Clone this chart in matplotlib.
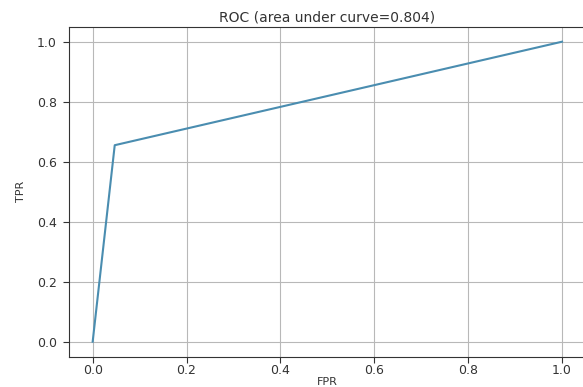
import matplotlib
matplotlib.use("Agg")
import matplotlib.pyplot as plt

fpr = [0.0, 0.047, 1.0]
tpr = [0.0, 0.655, 1.0]
auc = 0.804
ticks = [0.0, 0.2, 0.4, 0.6, 0.8, 1.0]

fig = plt.figure(figsize=(5.83, 3.87), dpi=100)
ax = fig.add_axes([0.1187, 0.0783, 0.8856, 0.8527])
ax.plot(fpr, tpr, color="#4a8db0", linewidth=1.5)
ax.set_xlim(-0.05, 1.05)
ax.set_ylim(-0.05, 1.05)
ax.set_xticks(ticks)
ax.set_yticks(ticks)
ax.tick_params(labelsize=9, colors="#333333", length=4)
ax.tick_params(axis="x", pad=1.5)
ax.tick_params(axis="y", pad=5)
ax.grid(True, color="#b8b8b8", linewidth=0.8)
ax.set_title("ROC (area under curve=%.3f)" % auc, fontsize=10, color="#333333", pad=4)
ax.set_xlabel("FPR", fontsize=8, color="#333333", labelpad=0)
ax.set_ylabel("TPR", fontsize=8, color="#333333", labelpad=8)
for s in ax.spines.values():
    s.set_color("#333333")

fig.savefig("out.png", dpi=100)
